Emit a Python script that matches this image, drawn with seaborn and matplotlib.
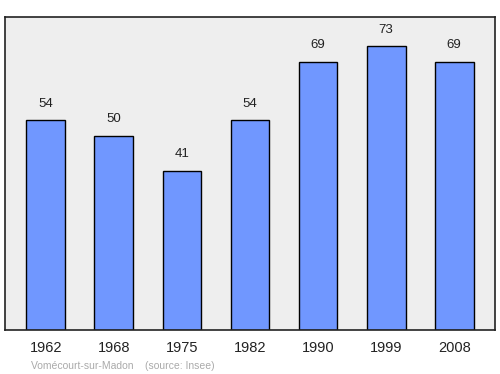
import matplotlib
matplotlib.use("Agg")
import matplotlib.pyplot as plt
import seaborn as sns
import pandas as pd

years = ["1962", "1968", "1975", "1982", "1990", "1999", "2008"]
population = [54, 50, 41, 54, 69, 73, 69]

sns.set_theme(style="white")
plt.rcParams['font.family'] = ['Liberation Sans', 'DejaVu Sans']

df = pd.DataFrame({"year": years, "pop": population})

fig = plt.figure(figsize=(5, 3.74), dpi=100)
ax = fig.add_axes([0.01, 0.1176, 0.98, 0.837])
ax.set_facecolor("#eeeeee")
sns.barplot(data=df, x="year", y="pop", ax=ax, color="#7097ff", width=0.57,
            edgecolor="black", linewidth=1, saturation=1)
ax.set_xlim(-0.6, 6.6)
ax.set_ylim(0, 80.5)
ax.set_yticks([])
ax.set_xlabel("")
ax.set_ylabel("")
ax.tick_params(axis="x", length=0, labelsize=10.5, pad=8, colors="#222222")
for s in ax.spines.values():
    s.set_color("#222222")
    s.set_linewidth(1.2)
for i, v in enumerate(population):
    ax.annotate(str(v), (i, v), xytext=(0, 7.5), textcoords="offset points",
                ha="center", va="bottom", fontsize=9.5, color="#222222")
fig.text(0.062, 0.008, "Vomécourt-sur-Madon    (source: Insee)", fontsize=7.5,
         color="#aaaaaa", ha="left", va="bottom")
fig.savefig("out.png", dpi=100)
